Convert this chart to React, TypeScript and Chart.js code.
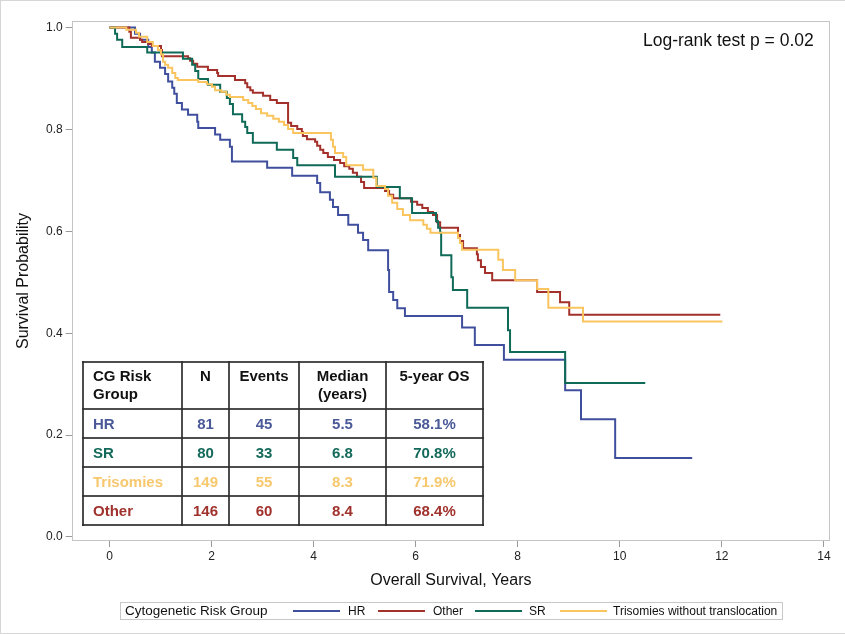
import React, { useEffect, useRef } from "react";
import { Chart, registerables } from "chart.js";

Chart.register(...registerables);

// ---------- data ----------
const seriesNames = ["HR", "Other", "SR", "Trisomies without translocation"];
const seriesColors = ["#3F4F9E", "#A3302A", "#0F6A57", "#FAC55E"];

const hrTimes = [0, 0.5, 0.6, 0.76, 0.83, 0.89, 0.99, 1.09, 1.15, 1.23, 1.27, 1.32, 1.42, 1.54, 1.72, 1.74, 2.07, 2.17, 2.36, 2.4, 3.09, 3.58, 4.07, 4.13, 4.32, 4.38, 4.48, 4.68, 4.87, 4.97, 5.07, 5.46, 5.48, 5.56, 5.64, 5.79, 6.91, 7.16, 7.73, 8.93, 9.24, 9.91, 11.42];
const hrSurv = [1, 0.988, 0.976, 0.962, 0.951, 0.933, 0.921, 0.909, 0.894, 0.882, 0.87, 0.852, 0.839, 0.829, 0.815, 0.803, 0.79, 0.78, 0.766, 0.737, 0.725, 0.709, 0.695, 0.677, 0.662, 0.648, 0.632, 0.613, 0.597, 0.583, 0.563, 0.524, 0.481, 0.465, 0.449, 0.434, 0.411, 0.377, 0.348, 0.288, 0.231, 0.155, 0.155];

const otherTimes = [0, 0.39, 0.42, 0.6, 0.64, 0.76, 0.83, 1.01, 1.03, 1.54, 1.58, 1.64, 1.72, 1.93, 2.11, 2.13, 2.46, 2.66, 2.7, 2.76, 2.81, 3.01, 3.15, 3.28, 3.5, 3.56, 3.68, 3.77, 3.79, 3.87, 4.03, 4.07, 4.13, 4.19, 4.28, 4.4, 4.52, 4.6, 4.7, 4.77, 4.85, 4.93, 4.99, 5.4, 5.48, 5.56, 5.91, 6.03, 6.13, 6.24, 6.34, 6.42, 6.48, 6.83, 6.87, 6.93, 7.2, 7.22, 7.28, 7.36, 7.5, 8.38, 8.83, 9.01, 11.97];
const otherSurv = [1, 0.992, 0.98, 0.976, 0.972, 0.968, 0.964, 0.956, 0.944, 0.94, 0.935, 0.929, 0.923, 0.917, 0.911, 0.905, 0.897, 0.891, 0.883, 0.877, 0.872, 0.866, 0.858, 0.852, 0.813, 0.807, 0.801, 0.795, 0.787, 0.781, 0.776, 0.768, 0.76, 0.754, 0.746, 0.74, 0.734, 0.728, 0.723, 0.715, 0.707, 0.697, 0.685, 0.679, 0.672, 0.665, 0.658, 0.652, 0.646, 0.638, 0.632, 0.618, 0.607, 0.593, 0.581, 0.567, 0.555, 0.543, 0.53, 0.518, 0.504, 0.481, 0.461, 0.436, 0.436];

const srTimes = [0, 0.11, 0.15, 0.25, 0.74, 1.44, 1.62, 1.68, 1.74, 1.93, 2.17, 2.3, 2.36, 2.42, 2.6, 2.66, 2.7, 2.81, 3.28, 3.6, 3.68, 4.42, 5.24, 5.69, 5.93, 6.4, 6.44, 6.48, 6.5, 6.7, 6.73, 7.01, 7.81, 7.85, 8.93, 10.5];
const srSurv = [1, 0.988, 0.976, 0.962, 0.951, 0.939, 0.927, 0.915, 0.899, 0.888, 0.874, 0.862, 0.85, 0.83, 0.815, 0.805, 0.793, 0.774, 0.76, 0.744, 0.73, 0.707, 0.687, 0.665, 0.636, 0.62, 0.607, 0.597, 0.553, 0.51, 0.485, 0.45, 0.406, 0.363, 0.302, 0.302];

const triTimes = [0, 0.33, 0.52, 0.58, 0.74, 0.85, 0.95, 1.01, 1.05, 1.09, 1.15, 1.23, 1.29, 1.34, 1.74, 1.91, 2.01, 2.07, 2.19, 2.29, 2.36, 2.62, 2.72, 2.8, 2.87, 2.97, 3.09, 3.21, 3.32, 3.42, 3.5, 3.6, 4.34, 4.38, 4.42, 4.58, 4.64, 4.97, 5.17, 5.23, 5.4, 5.46, 5.54, 5.64, 5.75, 5.89, 6.15, 6.22, 6.29, 6.83, 6.87, 6.91, 7.62, 7.71, 7.95, 8.38, 8.6, 9.28, 12.01];
const triSurv = [1, 0.996, 0.99, 0.982, 0.972, 0.964, 0.956, 0.947, 0.933, 0.927, 0.921, 0.911, 0.901, 0.897, 0.893, 0.889, 0.884, 0.877, 0.874, 0.868, 0.864, 0.858, 0.852, 0.846, 0.84, 0.832, 0.827, 0.821, 0.815, 0.809, 0.801, 0.793, 0.78, 0.766, 0.754, 0.746, 0.73, 0.721, 0.705, 0.689, 0.683, 0.67, 0.656, 0.644, 0.632, 0.622, 0.613, 0.605, 0.597, 0.587, 0.577, 0.564, 0.544, 0.524, 0.504, 0.487, 0.45, 0.423, 0.423];

const xTicks = [0, 2, 4, 6, 8, 10, 12, 14];
const yTicks = [0, 0.2, 0.4, 0.6, 0.8, 1.0];

const tableHeader = ["CG Risk\nGroup", "N", "Events", "Median\n(years)", "5-year OS"];
const tableGroups = ["HR", "SR", "Trisomies", "Other"];
const tableN = [81, 80, 149, 146];
const tableEvents = [45, 33, 55, 60];
const tableMedian = ["5.5", "6.8", "8.3", "8.4"];
const tableOS = ["58.1%", "70.8%", "71.9%", "68.4%"];
const tableColors = ["#4A5998", "#13695A", "#F7C86E", "#A0322D"];

const legendTitle = "Cytogenetic Risk Group";
const annotationText = "Log-rank test p = 0.02";

// ---------- layout constants ----------
const W = 845;
const H = 634;
const FONT = "'Liberation Sans', Arial, Helvetica, sans-serif";

const framePlugin = {
  id: "plotFrame",
  afterDatasetsDraw(chart: any) {
    const { ctx, chartArea } = chart;
    const { left, top, right, bottom } = chartArea;
    ctx.save();
    ctx.strokeStyle = "#C4C4C4";
    ctx.lineWidth = 1;
    ctx.strokeRect(Math.round(left) + 0.5, Math.round(top) + 0.5, Math.round(right - left) - 1, Math.round(bottom - top) - 1);
    ctx.restore();
  },
};

function zip(t: number[], s: number[]) {
  return t.map((x, i) => ({ x, y: s[i] }));
}

export default function App() {
  const canvasRef = useRef<HTMLCanvasElement | null>(null);

  useEffect(() => {
    document.body.style.margin = "0";
    const canvas = canvasRef.current;
    if (!canvas) return;
    const seriesData = [zip(hrTimes, hrSurv), zip(otherTimes, otherSurv), zip(srTimes, srSurv), zip(triTimes, triSurv)];
    const chart = new Chart(canvas, {
      type: "line",
      data: {
        datasets: seriesNames.map((name, i) => ({
          label: name,
          data: seriesData[i],
          borderColor: seriesColors[i],
          backgroundColor: seriesColors[i],
          borderWidth: 2,
          pointRadius: 0,
          stepped: "before" as const,
          fill: false,
          order: 4 - i,
        })),
      },
      options: {
        animation: false,
        responsive: false,
        maintainAspectRatio: false,
        layout: { padding: { left: 0, top: 21, right: 15, bottom: 44 } },
        plugins: {
          legend: { display: false },
          tooltip: { enabled: false },
        },
        scales: {
          x: {
            type: "linear",
            min: -0.74,
            max: 14.12,
            afterBuildTicks: (axis: any) => {
              axis.ticks = xTicks.map((v) => ({ value: v }));
            },
            afterFit: (axis: any) => {
              axis.height = 49;
            },
            border: { display: false },
            grid: { drawOnChartArea: false, drawTicks: true, tickLength: 6, color: "#9A9A9A" },
            ticks: {
              font: { family: FONT, size: 12 },
              color: "#222",
              padding: 2,
              maxRotation: 0,
              callback: (v: any) => String(v),
            },
            title: {
              display: true,
              text: "Overall Survival, Years",
              font: { family: FONT, size: 16 },
              color: "#111",
              padding: { top: 0, bottom: 0 },
            },
          },
          y: {
            type: "linear",
            min: -0.008,
            max: 1.013,
            afterBuildTicks: (axis: any) => {
              axis.ticks = yTicks.map((v) => ({ value: v }));
            },
            afterFit: (axis: any) => {
              axis.width = 71.7;
            },
            border: { display: false },
            grid: { drawOnChartArea: false, drawTicks: true, tickLength: 6, color: "#9A9A9A" },
            ticks: {
              font: { family: FONT, size: 12 },
              color: "#222",
              padding: 3,
              callback: (v: any) => Number(v).toFixed(1),
            },
            title: {
              display: true,
              text: "Survival Probability",
              font: { family: FONT, size: 16 },
              color: "#111",
              padding: { top: 13.5, bottom: 0 },
            },
          },
        },
      },
      plugins: [framePlugin],
    });
    return () => chart.destroy();
  }, []);

  const colLefts = [83, 182, 229, 299, 386, 483];
  const rowTops = [362, 409, 438, 467, 496, 525];
  const lineStyle = "#2E2E2E";

  const cells: React.ReactNode[] = [];
  tableHeader.forEach((h, c) => {
    cells.push(
      <div
        key={"h" + c}
        style={{
          position: "absolute",
          left: colLefts[c],
          top: rowTops[0],
          width: colLefts[c + 1] - colLefts[c],
          height: rowTops[1] - rowTops[0],
          boxSizing: "border-box",
          paddingTop: 5,
          paddingLeft: c === 0 ? 10 : 0,
          textAlign: c === 0 ? "left" : "center",
          whiteSpace: "pre",
          lineHeight: "18px",
          color: "#111",
        }}
      >
        {h}
      </div>
    );
  });
  tableGroups.forEach((g, r) => {
    const vals = [g, String(tableN[r]), String(tableEvents[r]), tableMedian[r], tableOS[r]];
    vals.forEach((v, c) => {
      cells.push(
        <div
          key={"c" + r + "_" + c}
          style={{
            position: "absolute",
            left: colLefts[c],
            top: rowTops[r + 1],
            width: colLefts[c + 1] - colLefts[c],
            height: rowTops[r + 2] - rowTops[r + 1],
            boxSizing: "border-box",
            paddingLeft: c === 0 ? 10 : 0,
            display: "flex",
            alignItems: "center",
            justifyContent: c === 0 ? "flex-start" : "center",
            color: tableColors[r],
          }}
        >
          {v}
        </div>
      );
    });
  });
  const lines: React.ReactNode[] = [];
  rowTops.forEach((y, i) => {
    lines.push(
      <div key={"hl" + i} style={{ position: "absolute", left: colLefts[0] - 1, top: y - 1, width: colLefts[5] - colLefts[0] + 2, height: 2, background: lineStyle, opacity: 0.85 }} />
    );
  });
  colLefts.forEach((x, i) => {
    lines.push(
      <div key={"vl" + i} style={{ position: "absolute", left: x - 1, top: rowTops[0] - 1, width: 2, height: rowTops[5] - rowTops[0] + 2, background: lineStyle, opacity: 0.85 }} />
    );
  });

  const legendItems = [
    { line: 293, text: 348 },
    { line: 378, text: 433 },
    { line: 475, text: 529 },
    { line: 560, text: 613 },
  ];

  return (
    <div style={{ position: "relative", width: W, height: H, background: "#fff", overflow: "hidden" }}>
      <canvas ref={canvasRef} width={W} height={H} style={{ position: "absolute", left: 0, top: 0, width: W, height: H }} />
      <div style={{ position: "absolute", left: 0, top: 0, width: W - 1, height: H - 2, border: "1px solid #D6D6D6", pointerEvents: "none" }} />
      <div style={{ position: "absolute", left: 643, top: 30, fontFamily: FONT, fontSize: 17.5, color: "#111", whiteSpace: "nowrap" }}>{annotationText}</div>
      <div style={{ position: "absolute", left: 0, top: 0, fontFamily: FONT, fontSize: 15, fontWeight: "bold" }}>
        <div style={{ position: "absolute", left: colLefts[0], top: rowTops[0], width: colLefts[5] - colLefts[0], height: rowTops[5] - rowTops[0], background: "#fff" }} />
        {cells}
        {lines}
      </div>
      <div style={{ position: "absolute", left: 120, top: 602, width: 663, height: 18, boxSizing: "border-box", border: "1px solid #C8C8C8", background: "#fff" }} />
      <div style={{ position: "absolute", left: 125, top: 602, height: 18, lineHeight: "18px", fontFamily: FONT, fontSize: 13.5, color: "#111", whiteSpace: "nowrap" }}>{legendTitle}</div>
      {seriesNames.map((n, i) => (
        <React.Fragment key={n}>
          <div style={{ position: "absolute", left: legendItems[i].line, top: 610, width: 47, height: 2, background: seriesColors[i] }} />
          <div style={{ position: "absolute", left: legendItems[i].text, top: 602, height: 18, lineHeight: "18px", fontFamily: FONT, fontSize: 12, color: "#111", whiteSpace: "nowrap" }}>{n}</div>
        </React.Fragment>
      ))}
    </div>
  );
}
